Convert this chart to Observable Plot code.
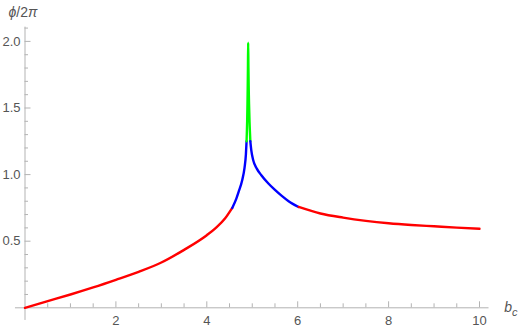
<!DOCTYPE html>
<html>
<head>
<meta charset="utf-8">
<script src="https://cdn.jsdelivr.net/npm/d3@7"></script>
<script src="https://cdn.jsdelivr.net/npm/@observablehq/plot@0.6"></script>
<style>
  html, body { margin: 0; padding: 0; background: #fff; }
</style>
</head>
<body>
<div id="chart"></div>
<script>
// ---- data ----
const redLeftX  = [0, 0.5, 1, 1.5, 2, 2.5, 3, 3.5, 4, 4.2, 4.4, 4.56];
const redLeftY  = [0, 0.05, 0.10, 0.153, 0.21, 0.27, 0.34, 0.435, 0.545, 0.6, 0.67, 0.75];
const blueLeftX = [4.56, 4.65, 4.7, 4.78, 4.83, 4.86, 4.875];
const blueLeftY = [0.75, 0.82, 0.87, 0.96, 1.05, 1.15, 1.25];
const greenX    = [4.875, 4.888, 4.898, 4.905, 4.91, 4.916, 4.925, 4.94, 4.958];
const greenY    = [1.25, 1.4, 1.6, 1.8, 1.99, 1.8, 1.6, 1.4, 1.25];
const blueRightX = [4.958, 4.98, 5.02, 5.1, 5.2, 5.35, 5.5, 5.65, 5.8, 6.02];
const blueRightY = [1.25, 1.18, 1.11, 1.045, 0.995, 0.935, 0.885, 0.84, 0.8, 0.757];
const redRightX = [6.02, 6.5, 7, 7.5, 8, 8.5, 9, 9.5, 10];
const redRightY = [0.757, 0.708, 0.677, 0.653, 0.635, 0.622, 0.612, 0.602, 0.593];

const xTickValues = [2, 4, 6, 8, 10];
const xTickLabels = ["2", "4", "6", "8", "10"];
const xMinorTicks = [0.5, 1, 1.5, 2.5, 3, 3.5, 4.5, 5, 5.5, 6.5, 7, 7.5, 8.5, 9, 9.5];
const yTickValues = [0.5, 1.0, 1.5, 2.0];
const yTickLabels = ["0.5", "1.0", "1.5", "2.0"];
const yMinorTicks = [0.1, 0.2, 0.3, 0.4, 0.6, 0.7, 0.8, 0.9, 1.1, 1.2, 1.3, 1.4, 1.6, 1.7, 1.8, 1.9, 2.1];
const yAxisLabel = "ϕ/2π";
const xAxisLabel = "bc";

// ---- build segments ----
const toPts = (xs, ys) => xs.map((x, i) => ({x, y: ys[i]}));
const segments = [
  {pts: toPts(redLeftX, redLeftY), color: "#ff0000", curve: "monotone-x"},
  {pts: toPts(blueLeftX, blueLeftY), color: "#0000ff", curve: "monotone-x"},
  {pts: toPts(greenX, greenY), color: "#00ff00", curve: "catmull-rom"},
  {pts: toPts(blueRightX, blueRightY), color: "#0000ff", curve: "monotone-x"},
  {pts: toPts(redRightX, redRightY), color: "#ff0000", curve: "monotone-x"}
];

const axisColor = "#b3b3b3";
const labelColor = "#555555";
const xPx = 45.45, yPx = 133.2; // pixels per data unit (for tick lengths)

const chart = Plot.plot({
  width: 519,
  height: 332,
  margin: 0,
  x: {domain: [0, 10], range: [24.5, 479], axis: null},
  y: {domain: [0, 2], range: [307.3, 40.9], axis: null},
  style: {fontFamily: "'Liberation Sans', Arial, sans-serif", background: "#fff"},
  marks: [
    // axes lines
    Plot.ruleY([0], {x1: -0.21, x2: 10.21, stroke: axisColor, strokeWidth: 1}),
    Plot.ruleX([0], {y1: -0.095, y2: 2.107, stroke: axisColor, strokeWidth: 1}),
    // x ticks
    Plot.ruleX(xTickValues, {y1: 0, y2: 6 / yPx, stroke: axisColor}),
    Plot.ruleX(xMinorTicks, {y1: 0, y2: 4 / yPx, stroke: axisColor}),
    // y ticks
    Plot.ruleY(yTickValues, {x1: 0, x2: 6 / xPx, stroke: axisColor}),
    Plot.ruleY(yMinorTicks, {x1: 0, x2: 3.5 / xPx, stroke: axisColor}),
    // tick labels
    Plot.text(xTickValues, {x: d => d, y: () => 0, text: (d, i) => xTickLabels[i], dy: 13, lineAnchor: "middle", fill: labelColor, fontSize: 13}),
    Plot.text(yTickValues, {x: () => 0, y: d => d, text: (d, i) => yTickLabels[i], dx: -4.5, textAnchor: "end", lineAnchor: "middle", fill: labelColor, fontSize: 13}),
    // curves
    ...segments.map(s => Plot.line(s.pts, {x: "x", y: "y", stroke: s.color, strokeWidth: 2.4, curve: s.curve})),
    // axis labels
    Plot.text([yAxisLabel], {frameAnchor: "top-left", dx: 8, dy: 12, textAnchor: "start", lineAnchor: "middle", fill: labelColor, fontSize: 14}),
    Plot.text([xAxisLabel], {frameAnchor: "right", y: () => 0, dx: -2, textAnchor: "end", lineAnchor: "middle", fill: labelColor, fontSize: 14})
  ]
});

document.getElementById("chart").appendChild(chart);

// rich text for labels (italic symbols, subscript)
const svg = d3.select(chart);
svg.selectAll("text").filter(function() { return this.textContent === yAxisLabel; })
  .each(function() {
    const t = d3.select(this);
    t.text("");
    t.append("tspan").attr("font-style", "italic").text("ϕ");
    t.append("tspan").text("/2");
    t.append("tspan").attr("font-style", "italic").text("π");
  });
svg.selectAll("text").filter(function() { return this.textContent === xAxisLabel; })
  .each(function() {
    const t = d3.select(this);
    t.text("");
    t.append("tspan").attr("font-style", "italic").text("b");
    t.append("tspan").attr("font-style", "italic").attr("font-size", 11).attr("dy", 4).text("c");
  });
</script>
</body>
</html>
